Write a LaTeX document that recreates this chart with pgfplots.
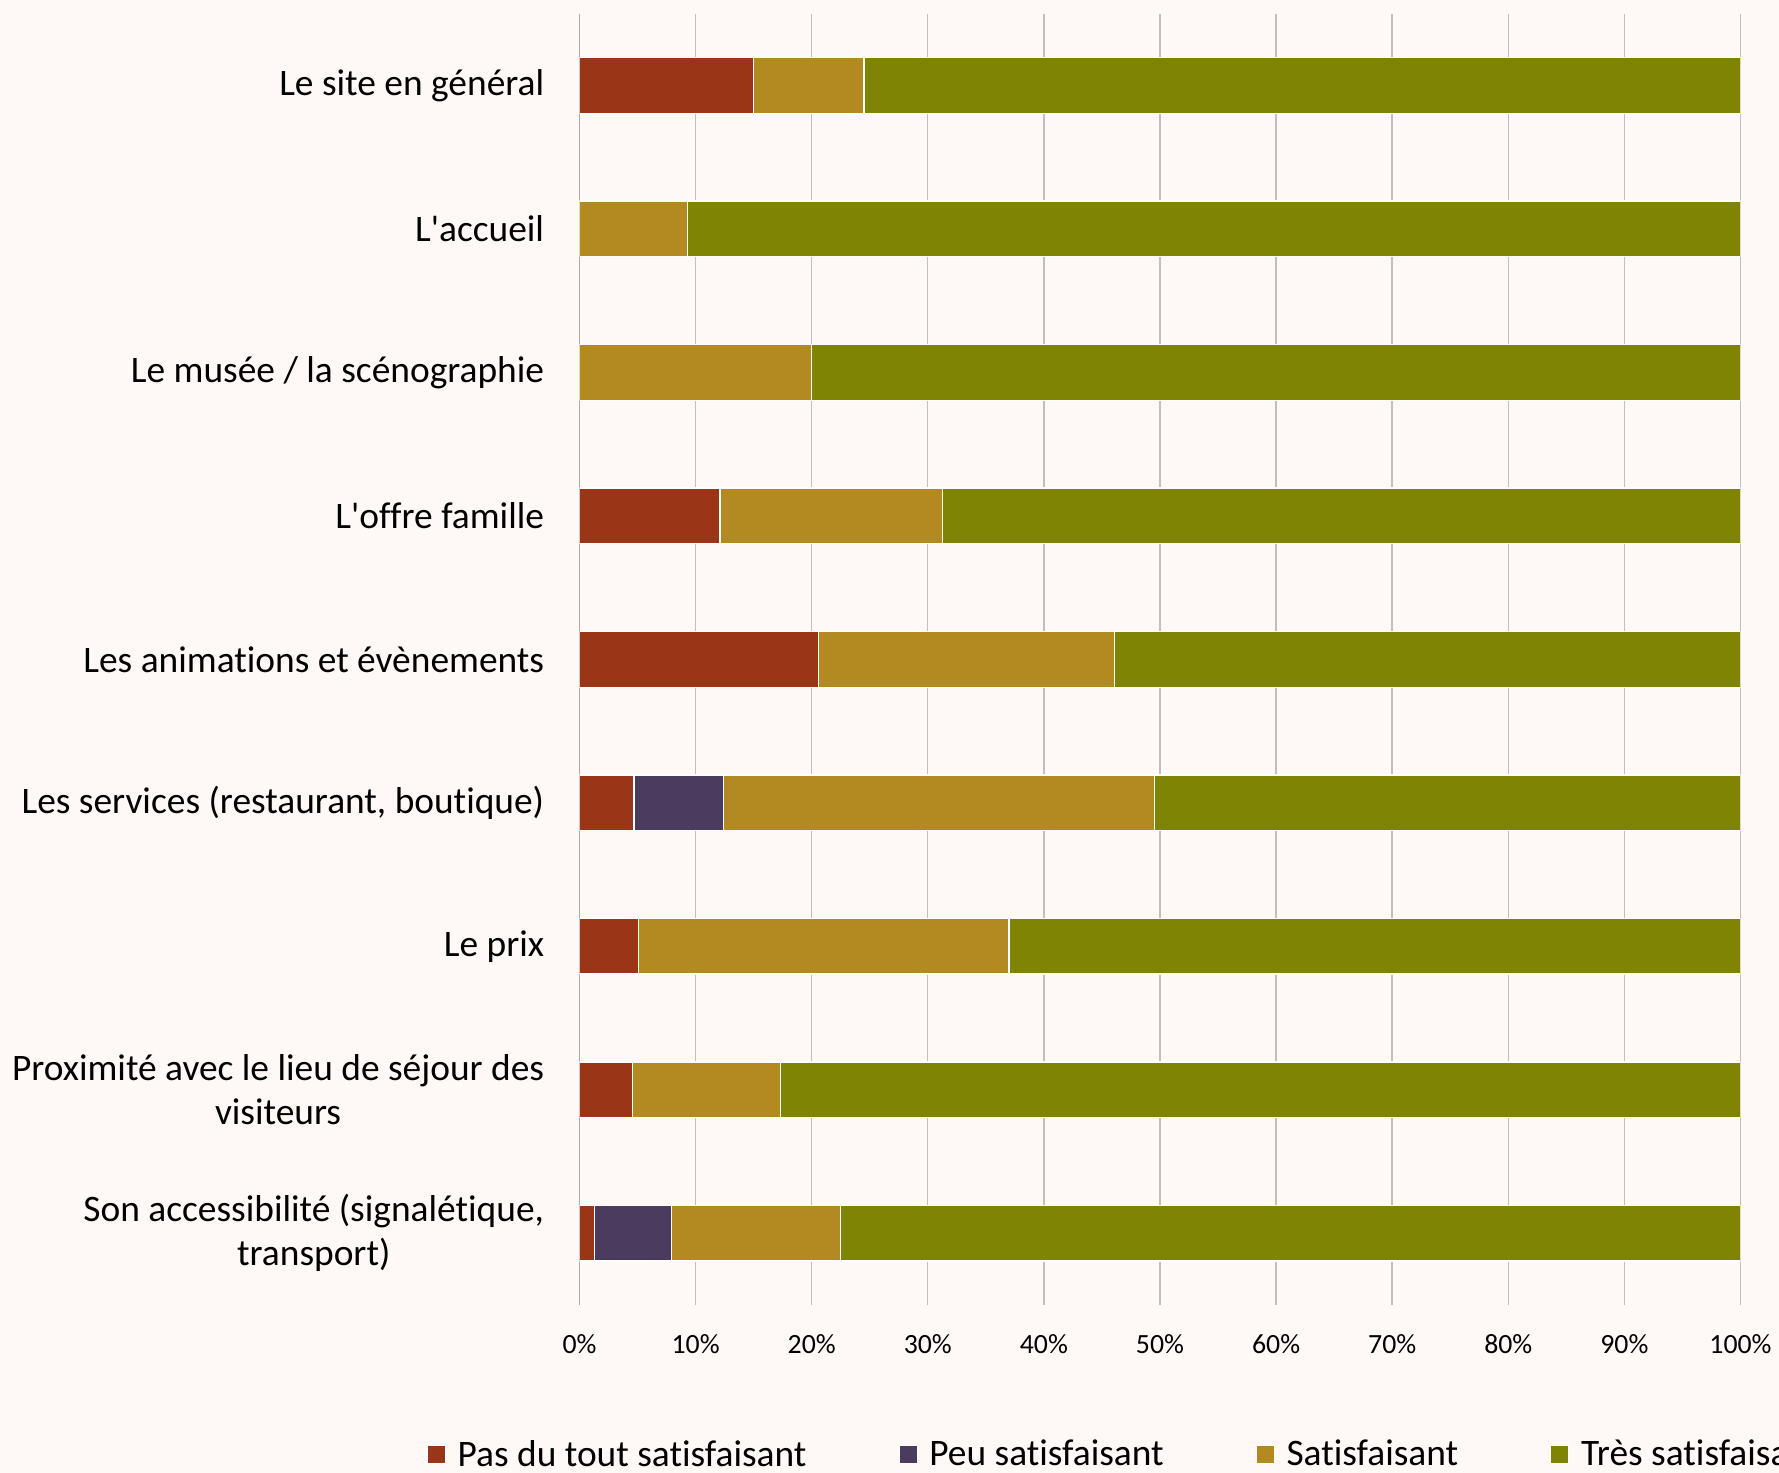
\documentclass[border=0pt]{standalone}
\usepackage{pgfplots}
\pgfplotsset{compat=1.18}
\usepackage{fontspec}
\setmainfont{Carlito}[Ligatures={NoCommon}]
\definecolor{bg}{HTML}{FEF9F6}
\definecolor{c1}{HTML}{9A3617}
\definecolor{c2}{HTML}{4B3B5E}
\definecolor{c3}{HTML}{B38A22}
\definecolor{c4}{HTML}{7F8405}
\definecolor{gridc}{HTML}{BFBFBF}
\definecolor{axc}{HTML}{A0A0A0}
\begin{document}
\begin{tikzpicture}
\path[use as bounding box, fill=bg] (-289.75pt,-84pt) rectangle (599.75pt,652.5pt);
\clip (-289.75pt,-84pt) rectangle (599.75pt,652.5pt);
\begin{axis}[
  at={(0pt,0pt)}, anchor=south west,
  width=580.5pt, height=645.7pt, scale only axis,
  xbar stacked, bar width=27.8pt,
  xmin=0, xmax=100, ymin=-0.5, ymax=8.5, y dir=reverse,
  axis line style={draw=none},
  xtick={0,10,...,100},
  /pgf/number format/assume math mode=true,
  xticklabel={\pgfmathprintnumber{\tick}\%},
  xticklabel style={anchor=center, inner sep=0pt, yshift=-19.8pt, font=\fontsize{13.9}{16}\selectfont, text=black},
  xmajorgrids, major grid style={gridc, line width=0.7pt},
  major tick length=0pt, tick style={draw=none},
  ytick={0,...,8},
  yticklabels={Le site en général, L\textquotesingle accueil, Le musée / la scénographie, L\textquotesingle offre famille, Les animations et évènements, {Les services (restaurant, boutique)}, Le prix, {Proximité avec le lieu de séjour des\\visiteurs}, {Son accessibilité (signalétique,\\transport)}},
  yticklabel style={align=center, anchor=east, inner sep=0pt, xshift=-17.5pt, font=\fontsize{18.7}{22}\selectfont, text=black},
  legend columns=4,
  legend style={at={(axis description cs:-0.1315,-0.1158)}, anchor=west, draw=none, fill=none, inner sep=0pt, outer sep=0pt,
    font=\fontsize{18.7}{22}\selectfont, nodes={inner sep=0pt},
    /tikz/every odd column/.append style={column sep=5.8pt},
    /tikz/every even column/.append style={column sep=46pt}},
  sq/.style={draw=white, line width=0.6pt, legend image code/.code={\fill[##1] (0pt,-4.6pt) rectangle (9pt,4.6pt);}},
]
\addplot[sq, fill=c1] coordinates {(15,0) (0,1) (0,2) (12.1,3) (20.6,4) (4.7,5) (5.1,6) (4.6,7) (1.3,8)};
\addplot[sq, fill=c2] coordinates {(0,0) (0,1) (0,2) (0,3) (0,4) (7.7,5) (0,6) (0,7) (6.6,8)};
\addplot[sq, fill=c3] coordinates {(9.5,0) (9.3,1) (20,2) (19.2,3) (25.5,4) (37.1,5) (31.9,6) (12.7,7) (14.6,8)};
\addplot[sq, fill=c4] coordinates {(75.5,0) (90.7,1) (80,2) (68.7,3) (53.9,4) (50.5,5) (63,6) (82.7,7) (77.5,8)};
\legend{Pas du tout satisfaisant, Peu satisfaisant, Satisfaisant, Très satisfaisant}
\draw[axc, line width=0.8pt] (axis description cs:0,0) -- (axis description cs:0,1);
\end{axis}
\end{tikzpicture}
\end{document}
